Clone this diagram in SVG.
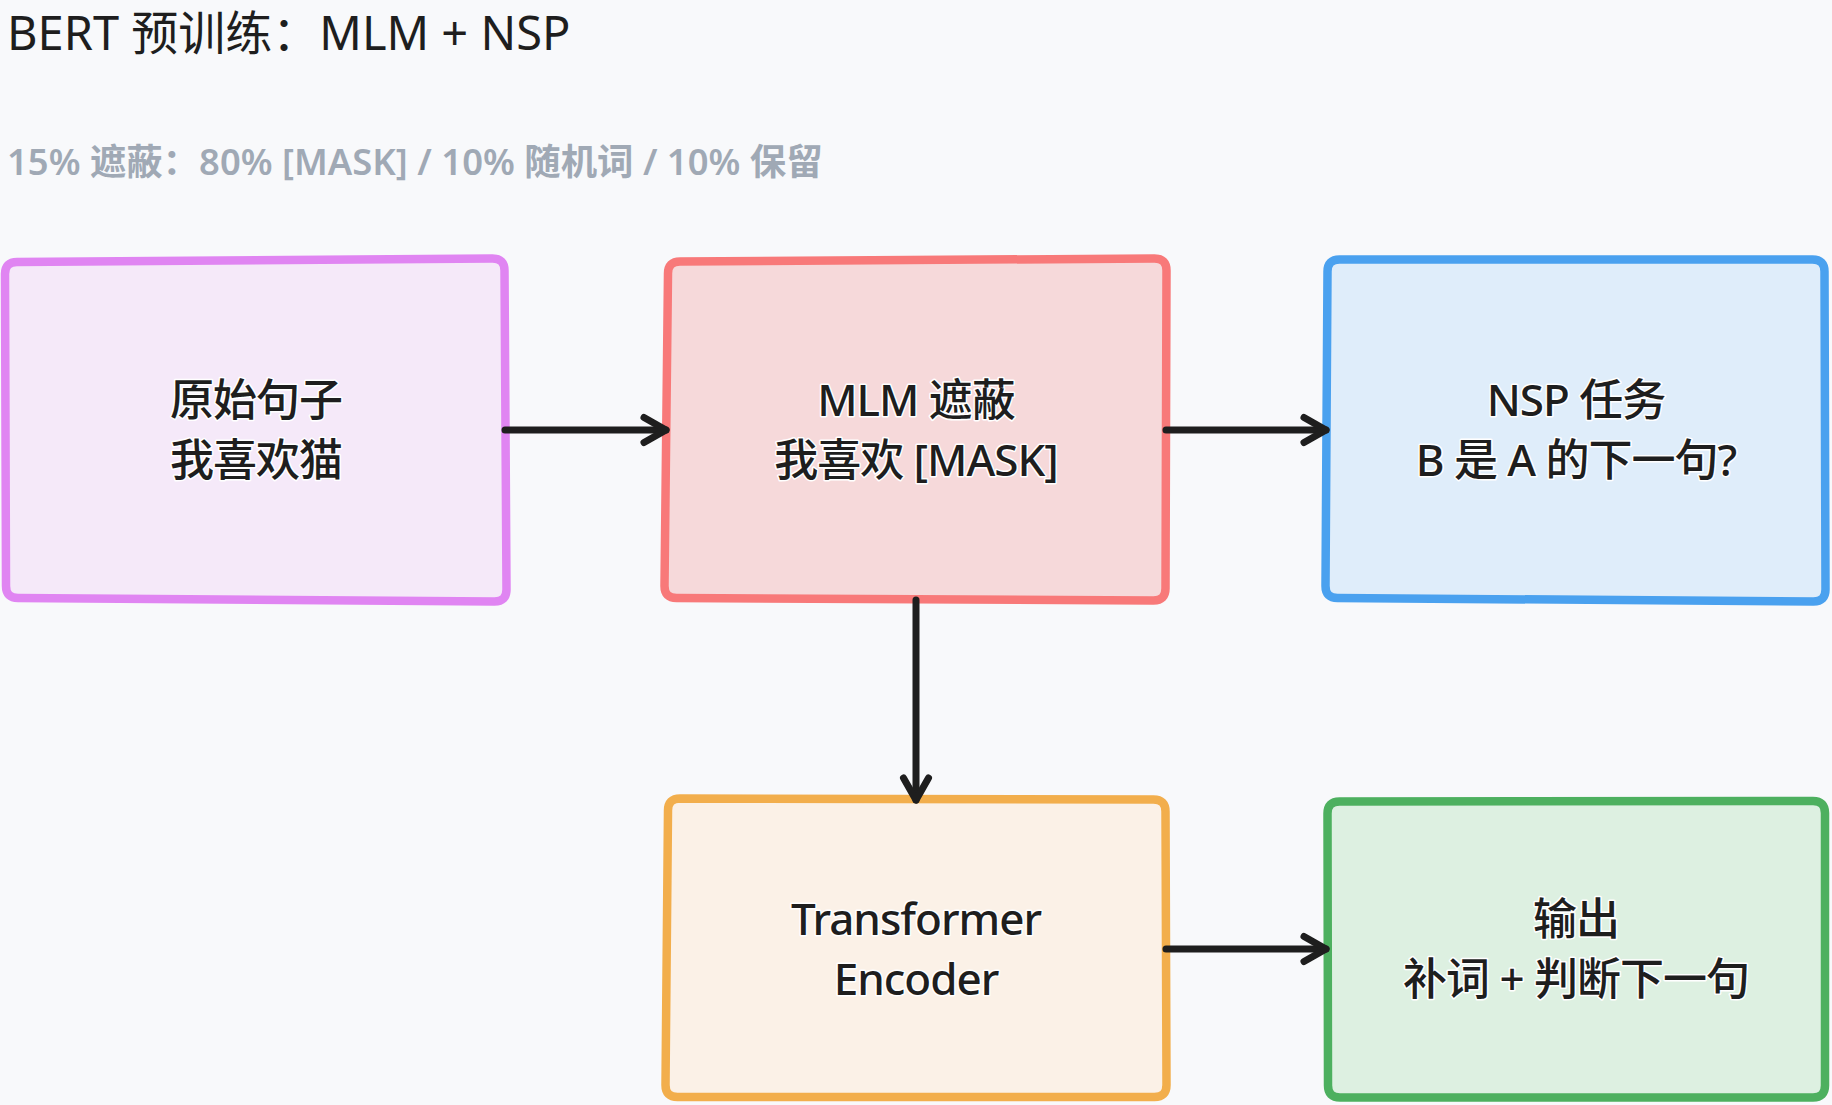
<svg xmlns="http://www.w3.org/2000/svg" width="1832" height="1105" viewBox="0 0 1832 1105">
  <style>
    .box { stroke-width: 8.5; stroke-linejoin: round; }
    .lbl { font-family: "Noto Sans", "Noto Sans CJK SC", sans-serif; font-size: 44px; font-weight: 500; letter-spacing: -1px; fill: #1e1e1e; text-anchor: middle; stroke: #ffffff; stroke-width: 3; paint-order: stroke; stroke-linejoin: round; }
    .conn { fill: none; stroke: #1e1e1e; stroke-width: 7; stroke-linecap: round; }
    .title { font-family: "Noto Sans", "Noto Sans CJK SC", sans-serif; font-size: 47px; fill: #1e1e1e; }
    .sub { font-family: "Noto Sans", "Noto Sans CJK SC", sans-serif; font-size: 36.4px; font-weight: 600; fill: #a0a9b5; }
  </style>
  <defs>
    <marker id="arr" viewBox="0 0 30 30" refX="26" refY="15" markerWidth="30" markerHeight="30" markerUnits="userSpaceOnUse" orient="auto" overflow="visible">
      <path d="M4 2.5 L26 15 L4 27.5" fill="none" stroke="#1e1e1e" stroke-width="7" stroke-linecap="round" stroke-linejoin="round"/>
    </marker>
  </defs>
  <rect width="1832" height="1105" fill="#f8f9fb"/>

  <text class="title" x="7" y="50">BERT 预训练：MLM + NSP</text>
  <text class="sub" x="7" y="175">15% 遮蔽：80% [MASK] / 10% 随机词 / 10% 保留</text>

  <g id="node-original">
    <path class="box" fill="#f5e9f9" stroke="#e085f2" d="M17 262 L492.5 258.5 Q504.5 258.5 504.5 270.5 L506.5 589.5 Q506.5 601.5 494.5 601.5 L18 598 Q6 598 6 586 L5 274 Q5 262 17 262 Z"/>
    <text class="lbl" x="256" y="416">原始句子</text>
    <text class="lbl" x="256" y="476">我喜欢猫</text>
  </g>

  <g id="node-mlm">
    <path class="box" fill="#f6d9da" stroke="#f87979" d="M680 261.5 L1154.5 258.5 Q1166.5 258.5 1166.5 270.5 L1165.5 588.5 Q1165.5 600.5 1153.5 600.5 L676.5 598 Q664.5 598 664.5 586 L668 273.5 Q668 261.5 680 261.5 Z"/>
    <text class="lbl" x="916" y="416">MLM 遮蔽</text>
    <text class="lbl" x="916" y="476">我喜欢 [MASK]</text>
  </g>

  <g id="node-nsp">
    <path class="box" fill="#dfedfa" stroke="#4aa1ef" d="M1339.5 259.5 L1812.5 259.5 Q1824.5 259.5 1824.5 271.5 L1825.5 589.5 Q1825.5 601.5 1813.5 601.5 L1337.5 598 Q1325.5 598 1325.5 586 L1327.5 271.5 Q1327.5 259.5 1339.5 259.5 Z"/>
    <text class="lbl" x="1576" y="416">NSP 任务</text>
    <text class="lbl" x="1576" y="476">B 是 A 的下一句?</text>
  </g>

  <g id="node-encoder">
    <path class="box" fill="#fbf1e7" stroke="#f2ae4c" d="M680 798.5 L1153.5 799.5 Q1165.5 799.5 1165.5 811.5 L1166.5 1085 Q1166.5 1097 1154.5 1097 L677.5 1097 Q665.5 1097 665.5 1085 L668 810.5 Q668 798.5 680 798.5 Z"/>
    <text class="lbl" x="916" y="935">Transformer</text>
    <text class="lbl" x="916" y="995">Encoder</text>
  </g>

  <g id="node-output">
    <path class="box" fill="#ddf0e1" stroke="#4db05f" d="M1339.5 801.5 L1813 801 Q1825 801 1825 813 L1825 1085.5 Q1825 1097.5 1813 1097.5 L1340 1097.5 Q1328 1097.5 1328 1085.5 L1327.5 813.5 Q1327.5 801.5 1339.5 801.5 Z"/>
    <text class="lbl" x="1576" y="935">输出</text>
    <text class="lbl" x="1576" y="995">补词 + 判断下一句</text>
  </g>

  <g id="connectors">
    <path class="conn" d="M505 430 L666 430" marker-end="url(#arr)"/>
    <path class="conn" d="M1166 430 L1326 430" marker-end="url(#arr)"/>
    <path class="conn" d="M916 600 L916 800" marker-end="url(#arr)"/>
    <path class="conn" d="M1166 949 L1326 949" marker-end="url(#arr)"/>
  </g>
</svg>
